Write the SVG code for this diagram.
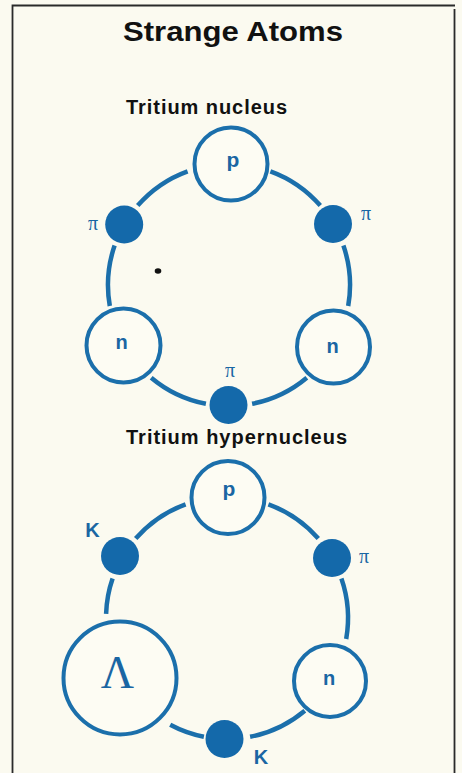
<svg xmlns="http://www.w3.org/2000/svg" width="462" height="773" viewBox="0 0 462 773">
<style>
.ring{fill:#fdfcf3;stroke:#1b6fab;stroke-width:4}
.dot{fill:#1469aa}
.arc{fill:none;stroke:#1b6fab;stroke-width:4.5;stroke-linecap:butt}
.lbl{font-family:"Liberation Sans",Arial,sans-serif;font-weight:bold;fill:#1a66a3;text-anchor:middle}
.pi{font-family:"Liberation Serif","Times New Roman",serif;fill:#1a66a3;text-anchor:middle;font-size:20px}
.head{font-family:"Liberation Sans",Arial,sans-serif;font-weight:bold;fill:#111;text-anchor:middle}
</style>
<rect width="462" height="773" fill="#fbfaf0"/>
<path d="M12.5 773 V5.5 H455" fill="none" stroke="#2a2a2a" stroke-width="1.8"/>
<path d="M454.5 9 V773" fill="none" stroke="#2a2a2a" stroke-width="1.8"/>
<text class="head" x="233" y="41" font-size="27" textLength="220" lengthAdjust="spacingAndGlyphs">Strange Atoms</text>
<text class="head" x="206.5" y="114" font-size="20" textLength="161" lengthAdjust="spacing">Tritium nucleus</text>
<text class="head" x="236.5" y="444" font-size="20" textLength="221" lengthAdjust="spacing">Tritium hypernucleus</text>
<g id="connectors">
<path class="arc" d="M137.7 205.6 A121 121 0 0 1 187.6 171.3"/>
<path class="arc" d="M270.4 171.3 A121 121 0 0 1 320.3 205.6"/>
<path class="arc" d="M343.4 245.6 A121 121 0 0 1 348.2 306"/>
<path class="arc" d="M306.8 377.7 A121 121 0 0 1 252.1 403.8"/>
<path class="arc" d="M205.9 403.8 A121 121 0 0 1 151.2 377.7"/>
<path class="arc" d="M109.8 306 A121 121 0 0 1 114.6 245.6"/>
<path class="arc" d="M135.7 538.6 A121 121 0 0 1 185.6 504.3"/>
<path class="arc" d="M268.4 504.3 A121 121 0 0 1 318.3 538.6"/>
<path class="arc" d="M341.4 578.6 A121 121 0 0 1 346.2 639"/>
<path class="arc" d="M304.8 710.7 A121 121 0 0 1 250.1 736.8"/>
<path class="arc" d="M203.9 736.8 A121 121 0 0 1 170.2 724.8"/>
<path class="arc" d="M106.1 613.8 A121 121 0 0 1 112.6 578.6"/>
</g>
<g id="t-p"><circle class="ring" cx="231" cy="164" r="36.5"/><text class="lbl" x="233" y="167" font-size="21">p</text></g>
<g id="t-pi-left"><circle class="dot" cx="124.2" cy="224.5" r="19"/><text class="pi" x="93" y="230">π</text></g>
<g id="t-pi-right"><circle class="dot" cx="333" cy="224" r="19"/><text class="pi" x="366" y="220">π</text></g>
<g id="t-n-left"><circle class="ring" cx="123.5" cy="345.5" r="37"/><text class="lbl" x="121.5" y="349" font-size="20">n</text></g>
<g id="t-n-right"><circle class="ring" cx="333.5" cy="347" r="36.5"/><text class="lbl" x="332.5" y="353" font-size="20">n</text></g>
<g id="t-pi-bottom"><circle class="dot" cx="228.5" cy="405" r="19"/><text class="pi" x="230" y="377">π</text></g>
<ellipse cx="158" cy="271" rx="3.3" ry="2.8" fill="#111"/>
<g id="h-p"><circle class="ring" cx="228" cy="497.5" r="36.5"/><text class="lbl" x="229" y="496" font-size="21">p</text></g>
<g id="h-k-left"><circle class="dot" cx="120" cy="556" r="19"/><text class="lbl" x="92.5" y="537" font-size="20">K</text></g>
<g id="h-pi-right"><circle class="dot" cx="332" cy="558" r="19"/><text class="pi" x="364" y="563">π</text></g>
<g id="h-lambda"><circle class="ring" cx="120" cy="678" r="56.5"/><text x="117.5" y="688" font-family="'Liberation Serif','Times New Roman',serif" font-size="46" fill="#1a66a3" text-anchor="middle">Λ</text></g>
<g id="h-n"><circle class="ring" cx="330" cy="681" r="36"/><text class="lbl" x="329" y="685" font-size="20">n</text></g>
<g id="h-k-bottom"><circle class="dot" cx="224.5" cy="739" r="19"/><text class="lbl" x="261" y="764" font-size="20">K</text></g>
</svg>
